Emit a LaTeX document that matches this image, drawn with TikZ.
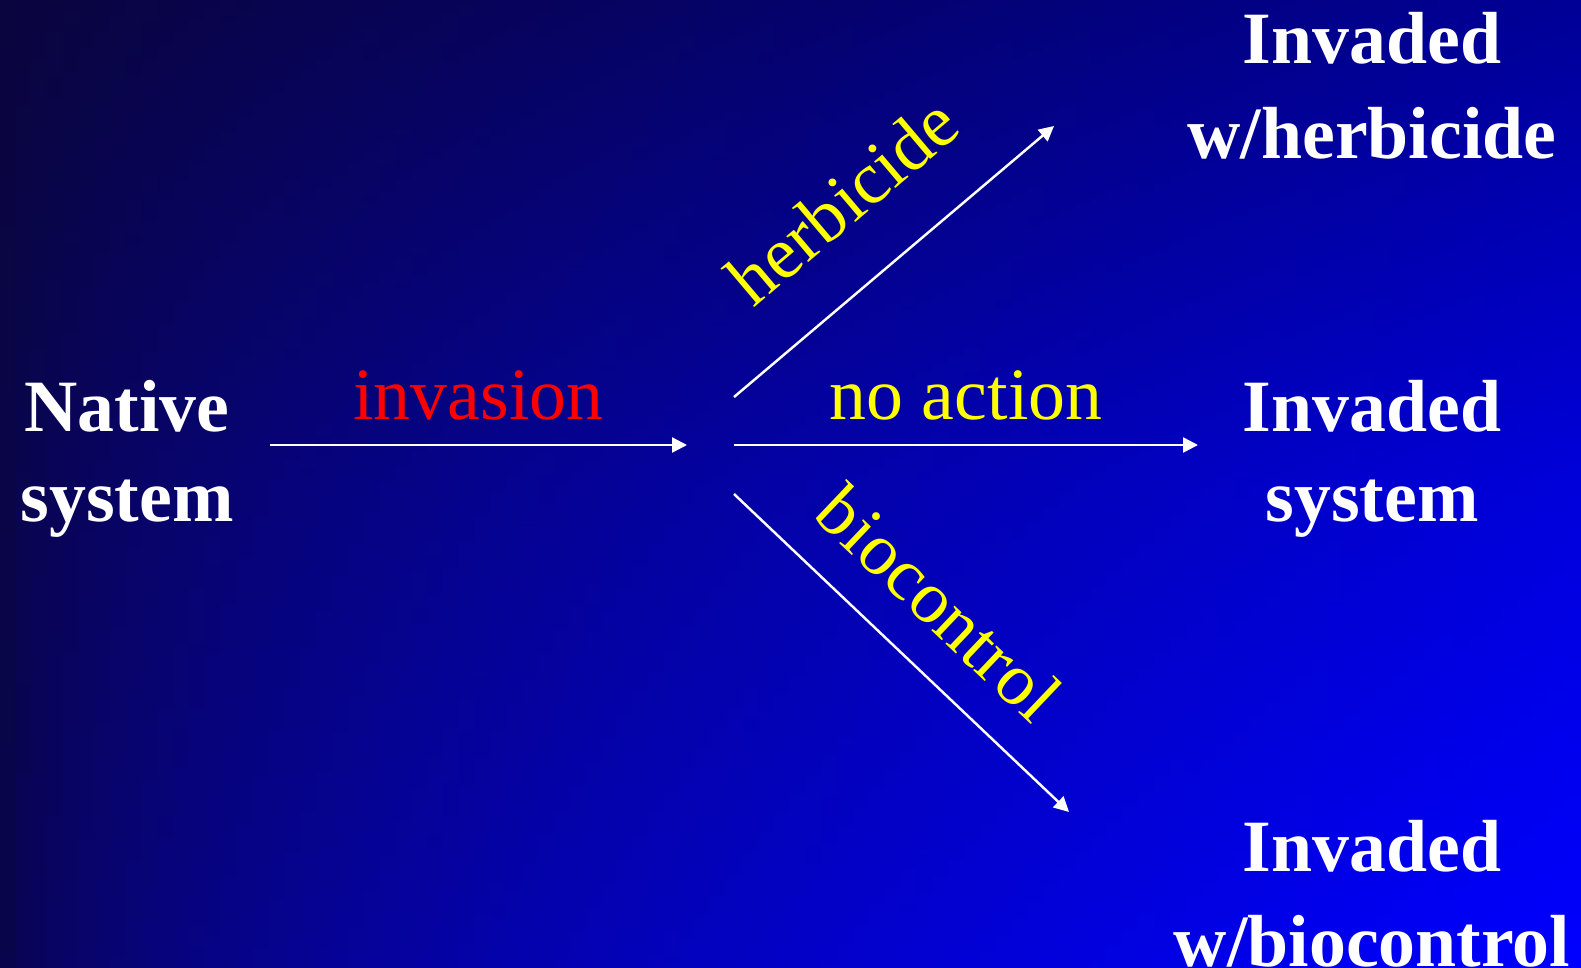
\documentclass[tikz,border=0pt]{standalone}
\usepackage{fontspec}
\setmainfont{Liberation Serif}
\usepackage{xcolor}
\usepackage{tikz}
\usetikzlibrary{arrows.meta}
\definecolor{bgdark}{RGB}{10,5,62}
\definecolor{bgtop}{RGB}{0,0,150}
\definecolor{bgbot}{RGB}{0,0,255}
\definecolor{invred}{RGB}{255,0,0}
\definecolor{actyellow}{RGB}{255,255,0}
\tikzset{
  state/.style={text=white, font=\fontsize{42}{51}\selectfont\bfseries,
                align=center, inner sep=0pt},
  act/.style={font=\fontsize{42}{51}\selectfont, text=actyellow, inner sep=3pt},
  arrow/.style={-{Triangle[length=8.5pt,width=8.5pt]}, line width=1.4pt, white},
}

\begin{document}
\begin{tikzpicture}[x=0.02cm, y=-0.02cm]
  \useasboundingbox (0,0) rectangle (1581,967);
  % background, dark at the left, bright blue at the lower right
  \foreach \i in {0,...,99} {
    \pgfmathsetmacro\gtop{\i+0.5}
    \pgfmathsetmacro\gbot{100*sqrt((\i+0.5)/100)}
    \colorlet{striptop}{bgtop!\gtop!bgdark}
    \colorlet{stripbot}{bgbot!\gbot!bgdark}
    \colorlet{stripmid}{stripbot!65!striptop}
    \shade[top color=striptop, bottom color=stripbot, middle color=stripmid]
      ({15.81*\i},0) rectangle ({15.81*(\i+1)+1},967);
  }

  % systems
  \node[state] (native)  at (127,459)  {Native\\system};
  \node[state] (invaded) at (1372,459) {Invaded\\system};
  \node[state] (herb)    at (1372,86)  {Invaded\\[3pt]w/herbicide};
  \node[state] (bio)     at (1372,894) {Invaded\\[3pt]w/biocontrol};

  % arrow ends
  \coordinate (inv-start) at (270,445);
  \coordinate (inv-end)   at (687,445);
  \coordinate (hub-mid)   at (734,445);
  \coordinate (hub-up)    at (734,397);
  \coordinate (hub-down)  at (734,494);
  \coordinate (none-end)  at (1198,445);
  \coordinate (herb-end)  at (1054,126);
  \coordinate (bio-end)   at (1069,812);

  \draw[arrow] (inv-start) -- node[midway, above=10.5pt, act, text=invred] {invasion} (inv-end);
  \draw[arrow] (hub-mid) -- node[midway, above=10.5pt, act] {no action} (none-end);
  \draw[arrow] (hub-up) -- node[midway, sloped, above=27pt, act] {herbicide} (herb-end);
  \draw[arrow] (hub-down) -- node[midway, sloped, above=17pt, xshift=-4pt, act] {biocontrol} (bio-end);
\end{tikzpicture}
\end{document}
